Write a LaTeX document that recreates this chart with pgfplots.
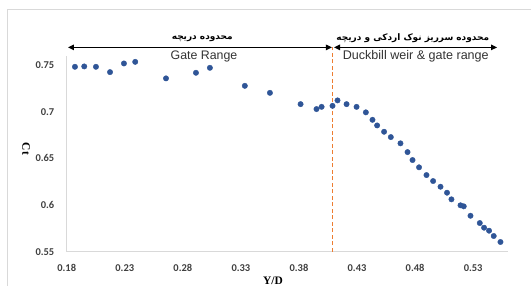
\documentclass[border=0pt]{standalone}
\usepackage{pgfplots}
\pgfplotsset{compat=1.18}
\usetikzlibrary{arrows.meta}
\usepackage{fontspec}
\setmainfont{Carlito}
\newfontfamily\arialfont{Liberation Sans}
\newfontfamily\timesfont{Liberation Serif}
\newfontfamily\arabicfont[Script=Arabic]{DejaVu Sans}
\TeXXeTstate=1
\definecolor{ptblue}{HTML}{2F5597}
\definecolor{axgray}{HTML}{D9D9D9}
\definecolor{vorange}{HTML}{ED7D31}
\definecolor{ticktext}{HTML}{404040}
\begin{document}
\begin{tikzpicture}
\useasboundingbox (0,0) rectangle (531bp,286bp);
\clip (0,0) rectangle (531bp,286bp);
\fill[white] (0,0) rectangle (531bp,286bp);
\draw[axgray, line width=0.8bp] (7.3bp,-5bp) -- (7.3bp,276.7bp) -- (540bp,276.7bp);
\begin{axis}[
  at={(66.7bp,34.3bp)}, anchor=south west, scale only axis,
  width=441.3bp, height=196bp,
  xmin=0.18, xmax=0.56, ymin=0.55, ymax=0.76,
  xtick={0.18,0.23,0.28,0.33,0.38,0.43,0.48,0.53},
  xticklabels={0.18,0.23,0.28,0.33,0.38,0.43,0.48,0.53},
  ytick={0.55,0.6,0.65,0.7,0.75},
  yticklabels={0.55,0.6,0.65,0.7,0.75},
  axis x line*=bottom, axis y line*=left,
  axis line style={-, axgray, line width=0.8bp},
  major tick length=0pt,
  tick style={draw=none},
  ticklabel style={font=\bfseries\fontsize{10.5}{12}\selectfont, text=ticktext},
  xticklabel style={yshift=-9bp},
  yticklabel style={xshift=-8.9bp},
  xlabel={Y/D},
  xlabel style={at={(axis description cs:0.4675,-0.166)}, anchor=base, inner sep=0pt,
    font=\timesfont\bfseries\fontsize{11.5}{13}\selectfont, text=black},
  ylabel={Ct},
  ylabel style={at={(axis description cs:-0.0922,0.524)}, anchor=center, rotate=180,
    font=\timesfont\bfseries\fontsize{11.5}{13}\selectfont, text=black},
  clip=false,
]
\addplot[vorange, line width=1.2bp, dash pattern=on 4bp off 2.5bp] coordinates {(0.4086,0.55) (0.4086,0.7689)};
\addplot[only marks, mark=*, mark size=2.7bp, mark options={fill=ptblue, draw=ptblue}] coordinates {
(0.1871,0.7481) (0.1951,0.7485) (0.2052,0.7481) (0.2173,0.7424) (0.2293,0.7517)
(0.2390,0.7534) (0.2655,0.7357) (0.2913,0.7417) (0.3033,0.7470) (0.3334,0.7277)
(0.3550,0.7202) (0.3814,0.7081) (0.3951,0.7028) (0.3995,0.7052) (0.4089,0.7063)
(0.4132,0.7121) (0.4210,0.7081) (0.4296,0.7052) (0.4376,0.6993) (0.4433,0.6913)
(0.4473,0.6853) (0.4533,0.6785) (0.4591,0.6728) (0.4674,0.6661) (0.4735,0.6567)
(0.4778,0.6482) (0.4834,0.6404) (0.4898,0.6321) (0.4955,0.6257) (0.5019,0.6196)
(0.5075,0.6132) (0.5113,0.6061) (0.5191,0.5997) (0.5219,0.5986) (0.5277,0.5885)
(0.5357,0.5807) (0.5394,0.5757) (0.5437,0.5725) (0.5477,0.5668) (0.5535,0.5604)
};
\draw[black, line width=1.1bp, {Triangle[length=6bp,width=5.5bp]}-{Triangle[length=6bp,width=5.5bp]}]
  (axis cs:0.1811,0.7689) -- (axis cs:0.4084,0.7689);
\draw[black, line width=1.1bp, {Triangle[length=6bp,width=5.5bp]}-{Triangle[length=6bp,width=5.5bp]}]
  (axis cs:0.4102,0.7689) -- (axis cs:0.5506,0.7689);
\node[font=\arialfont\fontsize{12.4}{14}\selectfont, text=black!80, inner sep=0pt] at (axis cs:0.2982,0.759) {Gate Range};
\node[font=\arialfont\fontsize{12.6}{14}\selectfont, text=black!80, inner sep=0pt] at (axis cs:0.4806,0.759) {Duckbill weir \& gate range};
\node[inner sep=0pt] at (axis cs:0.2967,0.7783) {\arabicfont\bfseries\fontsize{9}{10}\selectfont\beginR محدوده دریچه\endR};
\node[inner sep=0pt] at (axis cs:0.478,0.7785) {\arabicfont\bfseries\fontsize{9}{10}\selectfont\beginR محدوده سرریز نوک اردکی و دریچه\endR};
\end{axis}
\end{tikzpicture}
\end{document}
